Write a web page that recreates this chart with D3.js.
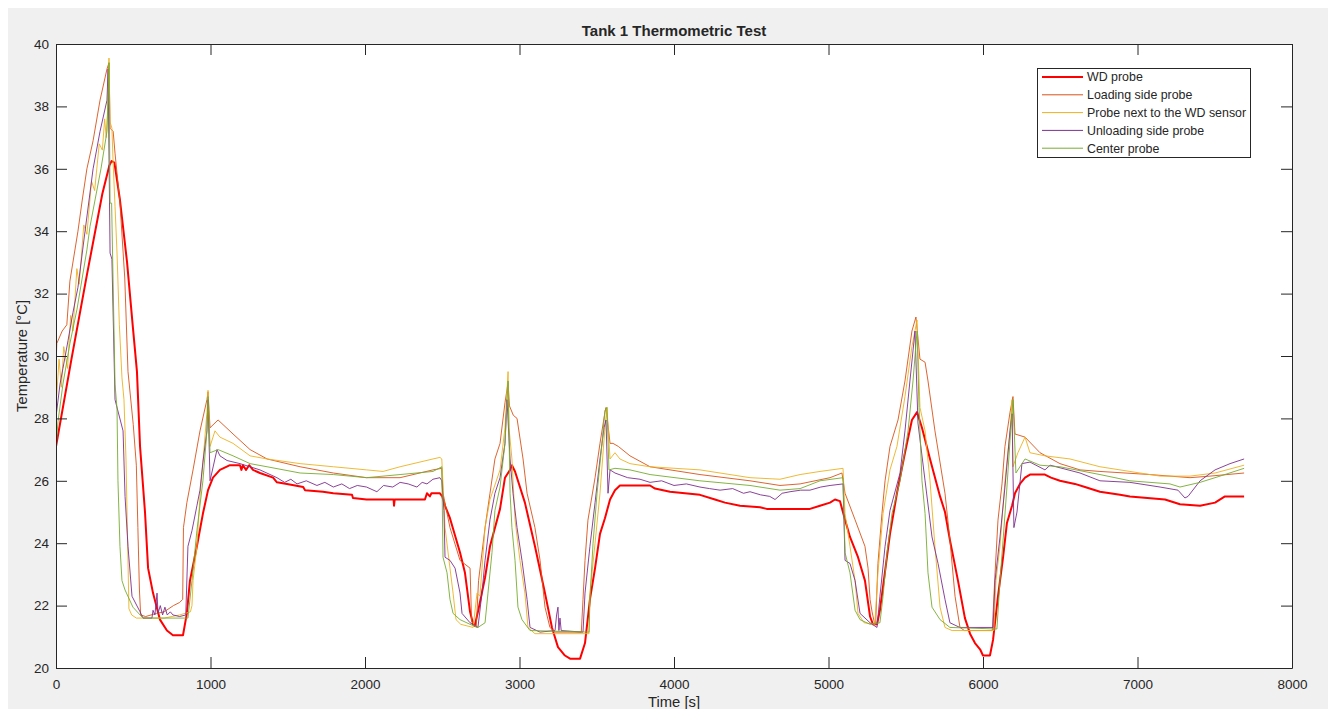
<!DOCTYPE html>
<html>
<head>
<meta charset="utf-8">
<script src="https://cdn.jsdelivr.net/npm/d3@7"></script>
<style>
  html, body { margin: 0; padding: 0; background: #ffffff; }
  svg { display: block; }
  text { font-family: "Liberation Sans", Arial, Helvetica, sans-serif; fill: #262626; }
</style>
</head>
<body>
<svg id="chart" width="1328" height="709"></svg>
<script>
// ---------------- DATA ----------------
const chartTitle = "Tank 1 Thermometric Test";
const xLabel = "Time [s]";
const yLabel = "Temperature [°C]";
const xTicks = [0, 1000, 2000, 3000, 4000, 5000, 6000, 7000, 8000];
const yTicks = [20, 22, 24, 26, 28, 30, 32, 34, 36, 38, 40];
const seriesNames = ["WD probe", "Loading side probe", "Probe next to the WD sensor", "Unloading side probe", "Center probe"];
const seriesColors = ["#ff0000", "#d95319", "#edb120", "#7e2f8e", "#77ac30"];
const seriesWidths = [2, 1, 1, 1, 1];

// [time s, temperature °C]
const wdProbe = [[0,27.1],[100,29.9],[200,32.6],[300,35.2],[345,36.1],[360,36.25],[378,36.2],[414,35.0],[460,33.0],[498,30.9],[524,29.5],[544,27.1],[576,25.0],[596,23.2],[628,22.4],[673,21.55],[718,21.2],[757,21.05],[822,21.05],[847,21.75],[867,22.8],[912,23.9],[951,24.95],[984,25.7],[1016,26.1],[1061,26.35],[1126,26.5],[1191,26.5],[1200,26.35],[1210,26.5],[1230,26.35],[1250,26.5],[1275,26.35],[1320,26.25],[1405,26.1],[1430,25.95],[1495,25.9],[1600,25.8],[1612,25.7],[1728,25.65],[1795,25.6],[1916,25.55],[1922,25.45],[2010,25.4],[2185,25.4],[2188,25.2],[2192,25.4],[2388,25.4],[2401,25.6],[2420,25.5],[2430,25.6],[2485,25.6],[2500,25.5],[2518,25.2],[2550,24.8],[2615,23.7],[2647,23.05],[2680,21.8],[2700,21.4],[2710,21.35],[2731,21.8],[2777,22.9],[2809,23.9],[2874,25.1],[2906,26.1],[2939,26.35],[2951,26.5],[2971,26.3],[3035,25.3],[3100,23.9],[3165,22.4],[3210,21.3],[3249,20.67],[3294,20.4],[3327,20.3],[3392,20.3],[3424,20.8],[3456,22.2],[3489,23.2],[3521,24.3],[3553,24.8],[3586,25.4],[3618,25.7],[3650,25.85],[3845,25.85],[3877,25.75],[3974,25.65],[4168,25.55],[4265,25.4],[4330,25.3],[4427,25.2],[4557,25.15],[4600,25.1],[4880,25.1],[4945,25.2],[5010,25.3],[5042,25.4],[5074,25.35],[5107,24.75],[5139,24.2],[5191,23.55],[5236,22.8],[5269,21.65],[5288,21.4],[5314,21.4],[5333,21.86],[5366,23.1],[5398,24.3],[5443,25.6],[5495,26.9],[5540,27.95],[5573,28.2],[5605,27.7],[5657,26.7],[5722,25.5],[5754,25.0],[5786,24.1],[5838,22.8],[5883,21.6],[5916,21.1],[5948,20.8],[5981,20.6],[6000,20.4],[6045,20.4],[6065,20.9],[6097,22.3],[6130,23.55],[6155,24.65],[6188,25.2],[6207,25.6],[6239,25.9],[6272,26.1],[6304,26.2],[6401,26.2],[6440,26.1],[6498,26.0],[6595,25.9],[6660,25.8],[6757,25.65],[6887,25.55],[6951,25.5],[7178,25.4],[7275,25.25],[7405,25.2],[7502,25.3],[7566,25.5],[7690,25.5]];

const loadingSide = [[0,29.6],[5,30.4],[40,30.8],[70,31.0],[90,32.4],[142,34.0],[170,35.0],[200,36.0],[240,36.9],[285,38.2],[330,39.2],[343,39.4],[350,37.3],[370,37.2],[382,36.5],[414,34.9],[445,32.5],[466,29.5],[500,27.8],[520,26.5],[530,24.5],[540,22.5],[548,21.7],[580,21.65],[650,21.75],[700,21.8],[760,22.0],[800,22.1],[820,22.2],[825,24.5],[847,25.3],[887,26.35],[932,27.6],[977,28.6],[984,28.85],[997,27.7],[1049,27.95],[1146,27.5],[1256,27.0],[1366,26.7],[1580,26.45],[1795,26.25],[2010,26.1],[2227,26.1],[2440,26.35],[2497,26.4],[2505,25.6],[2550,24.5],[2615,23.45],[2680,23.2],[2690,21.5],[2720,21.3],[2735,22.8],[2777,24.5],[2809,25.6],[2841,26.7],[2874,27.2],[2906,28.5],[2926,29.15],[2935,28.4],[2960,28.1],[2984,28.0],[3023,26.7],[3049,25.6],[3100,24.5],[3133,23.45],[3165,21.95],[3197,21.3],[3230,21.15],[3400,21.15],[3411,22.2],[3424,23.45],[3443,24.74],[3489,26.1],[3521,27.2],[3553,28.2],[3560,28.35],[3586,27.2],[3605,27.2],[3640,27.1],[3715,26.8],[3845,26.45],[4168,26.2],[4492,26.0],[4686,25.85],[4816,25.9],[5010,26.1],[5087,26.25],[5107,25.6],[5172,24.75],[5236,23.9],[5256,23.2],[5269,22.2],[5282,21.8],[5295,21.5],[5305,21.4],[5320,23.35],[5346,24.95],[5366,26.0],[5398,27.1],[5450,27.95],[5495,29.2],[5540,30.8],[5566,31.25],[5592,29.9],[5625,29.8],[5644,29.2],[5689,27.6],[5754,25.6],[5786,24.1],[5819,22.3],[5851,21.3],[5880,21.2],[6060,21.2],[6078,23.05],[6097,24.74],[6123,25.9],[6142,27.1],[6175,28.2],[6194,28.7],[6207,27.5],[6272,27.4],[6369,26.9],[6498,26.55],[6628,26.35],[6757,26.3],[7081,26.2],[7340,26.1],[7469,26.15],[7690,26.25]];

const nextToSensor = [[0,28.4],[20,29.9],[35,29.0],[50,30.3],[75,29.6],[95,31.3],[110,30.8],[135,32.8],[150,32.3],[180,34.2],[200,33.9],[230,35.6],[250,35.3],[280,36.8],[300,36.6],[315,37.6],[325,37.0],[335,37.9],[343,39.55],[350,37.5],[362,37.3],[369,36.3],[382,34.8],[395,33.3],[410,31.0],[427,29.3],[440,28.6],[453,26.7],[472,21.9],[490,21.7],[520,21.6],[700,21.6],[800,21.7],[870,21.8],[880,22.0],[887,22.8],[912,23.9],[932,25.5],[951,26.6],[977,28.2],[984,28.9],[997,27.1],[1029,27.6],[1061,27.4],[1146,27.2],[1256,26.8],[1366,26.7],[1580,26.55],[1795,26.45],[2010,26.35],[2117,26.3],[2227,26.45],[2440,26.7],[2485,26.75],[2497,26.7],[2518,24.5],[2550,23.2],[2570,22.4],[2589,21.55],[2620,21.4],[2700,21.3],[2725,22.4],[2744,22.3],[2777,24.5],[2809,25.4],[2874,26.35],[2906,27.7],[2926,29.5],[2932,27.7],[2951,26.7],[2971,24.75],[3003,23.45],[3035,22.4],[3055,21.3],[3100,21.1],[3450,21.1],[3456,22.4],[3489,24.0],[3521,25.6],[3553,27.7],[3566,28.35],[3586,26.7],[3618,26.9],[3650,26.7],[3715,26.55],[3845,26.45],[4168,26.35],[4492,26.1],[4686,26.05],[4816,26.2],[4945,26.3],[5094,26.4],[5107,24.95],[5139,23.9],[5172,22.8],[5191,21.75],[5230,21.45],[5300,21.4],[5320,23.05],[5353,24.95],[5398,26.35],[5443,27.1],[5495,28.7],[5540,30.3],[5573,31.15],[5592,28.35],[5625,27.6],[5657,26.0],[5689,23.9],[5722,21.95],[5754,21.3],[5800,21.2],[6070,21.2],[6084,22.8],[6110,23.9],[6142,26.0],[6175,27.6],[6188,28.6],[6194,26.45],[6226,26.9],[6272,27.4],[6304,26.9],[6401,26.8],[6563,26.7],[6757,26.45],[6951,26.3],[7146,26.15],[7340,26.15],[7502,26.25],[7690,26.5]];

const unloadingSide = [[0,28.05],[26,29.1],[45,29.6],[78,30.5],[110,31.4],[142,32.2],[188,34.0],[240,36.0],[285,37.2],[330,38.2],[337,39.2],[350,33.3],[362,33.1],[382,28.6],[434,27.6],[447,25.5],[466,23.9],[492,22.3],[544,21.8],[563,21.6],[621,21.6],[628,21.85],[640,21.7],[654,22.4],[660,21.75],[675,22.0],[690,21.7],[705,21.95],[720,21.7],[740,21.8],[757,21.7],[800,21.65],[840,21.7],[854,23.9],[880,24.4],[912,25.2],[932,25.7],[951,26.6],[977,27.6],[984,28.6],[997,26.0],[1042,27.0],[1061,26.8],[1107,26.65],[1191,26.55],[1320,26.35],[1430,26.1],[1480,25.95],[1520,26.05],[1560,25.9],[1620,26.0],[1689,25.85],[1740,25.95],[1795,25.8],[1850,25.9],[1900,25.75],[1950,25.85],[2010,25.8],[2077,25.65],[2120,25.85],[2180,25.8],[2227,25.95],[2280,25.9],[2336,25.8],[2370,25.95],[2401,25.9],[2440,26.05],[2485,26.1],[2497,26.0],[2511,25.05],[2518,23.55],[2550,23.45],[2583,23.2],[2615,22.4],[2628,21.75],[2680,21.45],[2731,21.3],[2757,22.4],[2777,23.45],[2809,24.75],[2841,25.6],[2874,26.1],[2906,27.2],[2919,28.6],[2939,26.7],[2958,25.6],[2984,24.5],[3016,23.45],[3049,22.2],[3068,21.3],[3133,21.15],[3230,21.2],[3240,21.7],[3249,21.95],[3255,21.2],[3262,21.6],[3270,21.2],[3411,21.15],[3424,22.4],[3456,23.9],[3489,25.3],[3521,26.7],[3547,27.7],[3560,27.95],[3573,25.6],[3586,26.35],[3618,26.25],[3700,26.1],[3780,26.05],[3845,25.95],[3920,26.0],[4000,25.85],[4080,25.9],[4168,25.8],[4230,25.75],[4298,25.7],[4380,25.75],[4450,25.6],[4492,25.65],[4560,25.55],[4620,25.5],[4654,25.4],[4700,25.6],[4751,25.65],[4820,25.7],[4880,25.7],[4950,25.8],[5010,25.85],[5094,25.9],[5107,23.45],[5139,23.35],[5172,22.8],[5204,21.75],[5269,21.45],[5314,21.3],[5333,22.3],[5366,23.9],[5398,25.05],[5463,26.25],[5495,27.6],[5527,29.2],[5560,30.8],[5579,27.85],[5625,26.0],[5670,24.2],[5709,23.35],[5754,22.2],[5786,21.45],[5850,21.3],[6065,21.3],[6078,22.8],[6110,24.2],[6142,25.8],[6175,27.6],[6188,28.15],[6200,24.5],[6220,25.0],[6252,26.55],[6304,26.6],[6401,26.35],[6434,26.5],[6628,26.25],[6757,26.0],[6951,25.95],[7146,25.8],[7262,25.7],[7307,25.45],[7327,25.5],[7405,26.0],[7502,26.35],[7599,26.55],[7690,26.7]];

const centerProbe = [[0,27.1],[13,27.9],[45,29.1],[90,30.4],[136,31.5],[200,33.4],[220,34.15],[291,36.0],[330,37.2],[343,39.4],[350,34.9],[360,34.9],[382,29.1],[395,28.3],[401,26.0],[414,23.9],[427,22.8],[447,22.5],[498,21.95],[563,21.6],[854,21.6],[880,22.8],[912,24.4],[951,26.0],[977,27.6],[984,28.7],[997,26.9],[1049,27.0],[1146,26.8],[1256,26.55],[1366,26.45],[1580,26.25],[1795,26.2],[2010,26.1],[2227,26.2],[2440,26.3],[2497,26.45],[2505,23.55],[2531,23.05],[2550,22.2],[2570,21.75],[2615,21.55],[2680,21.4],[2731,21.3],[2777,21.45],[2796,22.4],[2822,23.7],[2841,25.05],[2874,25.8],[2906,27.2],[2926,29.2],[2939,25.6],[2951,24.5],[2971,23.45],[2990,21.95],[3016,21.55],[3068,21.2],[3450,21.15],[3456,22.2],[3476,24.0],[3502,25.6],[3534,27.2],[3553,28.25],[3566,28.35],[3579,26.35],[3618,26.4],[3715,26.35],[3845,26.2],[4168,26.0],[4492,25.85],[4686,25.7],[4816,25.75],[4945,26.0],[5094,26.1],[5107,23.7],[5139,23.05],[5172,21.85],[5204,21.55],[5269,21.4],[5333,21.45],[5353,22.3],[5379,23.7],[5411,24.95],[5463,26.0],[5515,27.6],[5547,29.2],[5573,30.8],[5586,28.35],[5605,26.0],[5625,24.95],[5644,23.05],[5670,21.95],[5722,21.55],[5786,21.3],[6090,21.25],[6110,22.8],[6130,24.1],[6155,25.8],[6175,27.3],[6194,28.6],[6213,26.25],[6239,26.45],[6272,26.7],[6369,26.5],[6498,26.45],[6757,26.2],[6951,26.0],[7210,25.9],[7275,25.8],[7405,25.95],[7534,26.15],[7690,26.4]];

const seriesData = [wdProbe, loadingSide, nextToSensor, unloadingSide, centerProbe];

// ---------------- CHART ----------------
const W = 1328, H = 709;
const plot = { left: 56, top: 44, right: 1292, bottom: 668 };
const axisColor = "#262626";

const svg = d3.select("#chart");

// figure background
svg.append("rect").attr("x", 8).attr("y", 8).attr("width", W - 8).attr("height", H - 8).attr("fill", "#f0f0f0");
// axes background
svg.append("rect").attr("x", plot.left).attr("y", plot.top)
  .attr("width", plot.right - plot.left).attr("height", plot.bottom - plot.top).attr("fill", "#ffffff");

const x = d3.scaleLinear().domain([0, 8000]).range([plot.left, plot.right]);
const y = d3.scaleLinear().domain([20, 40]).range([plot.bottom, plot.top]);

svg.append("defs").append("clipPath").attr("id", "clip")
  .append("rect").attr("x", plot.left).attr("y", plot.top)
  .attr("width", plot.right - plot.left).attr("height", plot.bottom - plot.top);

const line = d3.line().x(d => x(d[0])).y(d => y(d[1]));

const gLines = svg.append("g").attr("clip-path", "url(#clip)");
seriesData.forEach((data, i) => {
  gLines.append("path").datum(data)
    .attr("d", line)
    .attr("fill", "none")
    .attr("stroke", seriesColors[i])
    .attr("stroke-width", seriesWidths[i])
    .attr("stroke-opacity", i === 0 ? 1 : 0.9)
    .attr("stroke-linejoin", "round");
});

const tickLen = 11;
function styleAxis(g) {
  g.selectAll(".domain").attr("stroke", axisColor);
  g.selectAll(".tick line").attr("stroke", axisColor);
  g.selectAll(".tick text").attr("fill", axisColor)
    .style("font-family", '"Liberation Sans", Arial, sans-serif').style("font-size", "13.5px");
}

const gx = svg.append("g").attr("transform", `translate(0,${plot.bottom})`)
  .call(d3.axisBottom(x).tickValues(xTicks).tickFormat(d3.format("d")).tickSizeInner(-tickLen).tickSizeOuter(0).tickPadding(11));
styleAxis(gx);
const gxTop = svg.append("g").attr("transform", `translate(0,${plot.top})`)
  .call(d3.axisTop(x).tickValues(xTicks).tickFormat("").tickSizeInner(-tickLen).tickSizeOuter(0));
styleAxis(gxTop);
const gy = svg.append("g").attr("transform", `translate(${plot.left},0)`)
  .call(d3.axisLeft(y).tickValues(yTicks).tickFormat(d3.format("d")).tickSizeInner(-tickLen).tickSizeOuter(0).tickPadding(7));
styleAxis(gy);
const gyRight = svg.append("g").attr("transform", `translate(${plot.right},0)`)
  .call(d3.axisRight(y).tickValues(yTicks).tickFormat("").tickSizeInner(-tickLen).tickSizeOuter(0));
styleAxis(gyRight);

// title
svg.append("text").attr("x", (plot.left + plot.right) / 2).attr("y", 36)
  .attr("text-anchor", "middle").style("font-size", "15px").style("font-weight", "bold")
  .text(chartTitle);
// x label
svg.append("text").attr("x", (plot.left + plot.right) / 2).attr("y", 707)
  .attr("text-anchor", "middle").style("font-size", "14.8px").text(xLabel);
// y label
svg.append("text").attr("transform", `translate(27,${(plot.top + plot.bottom) / 2}) rotate(-90)`)
  .attr("text-anchor", "middle").style("font-size", "14.8px").text(yLabel);

// legend
const leg = { x: 1037, y: 68, w: 213, h: 89 };
const gLeg = svg.append("g");
gLeg.append("rect").attr("x", leg.x + 0.5).attr("y", leg.y + 0.5).attr("width", leg.w).attr("height", leg.h)
  .attr("fill", "#ffffff").attr("stroke", axisColor).attr("stroke-width", 1);
seriesNames.forEach((name, i) => {
  const cy = 77 + i * 17.8;
  gLeg.append("line").attr("x1", 1042).attr("x2", 1083).attr("y1", cy).attr("y2", cy)
    .attr("stroke", seriesColors[i]).attr("stroke-width", seriesWidths[i]);
  gLeg.append("text").attr("x", 1087).attr("y", cy + 4.4).style("font-size", "12.4px").text(name);
});
</script>
</body>
</html>
